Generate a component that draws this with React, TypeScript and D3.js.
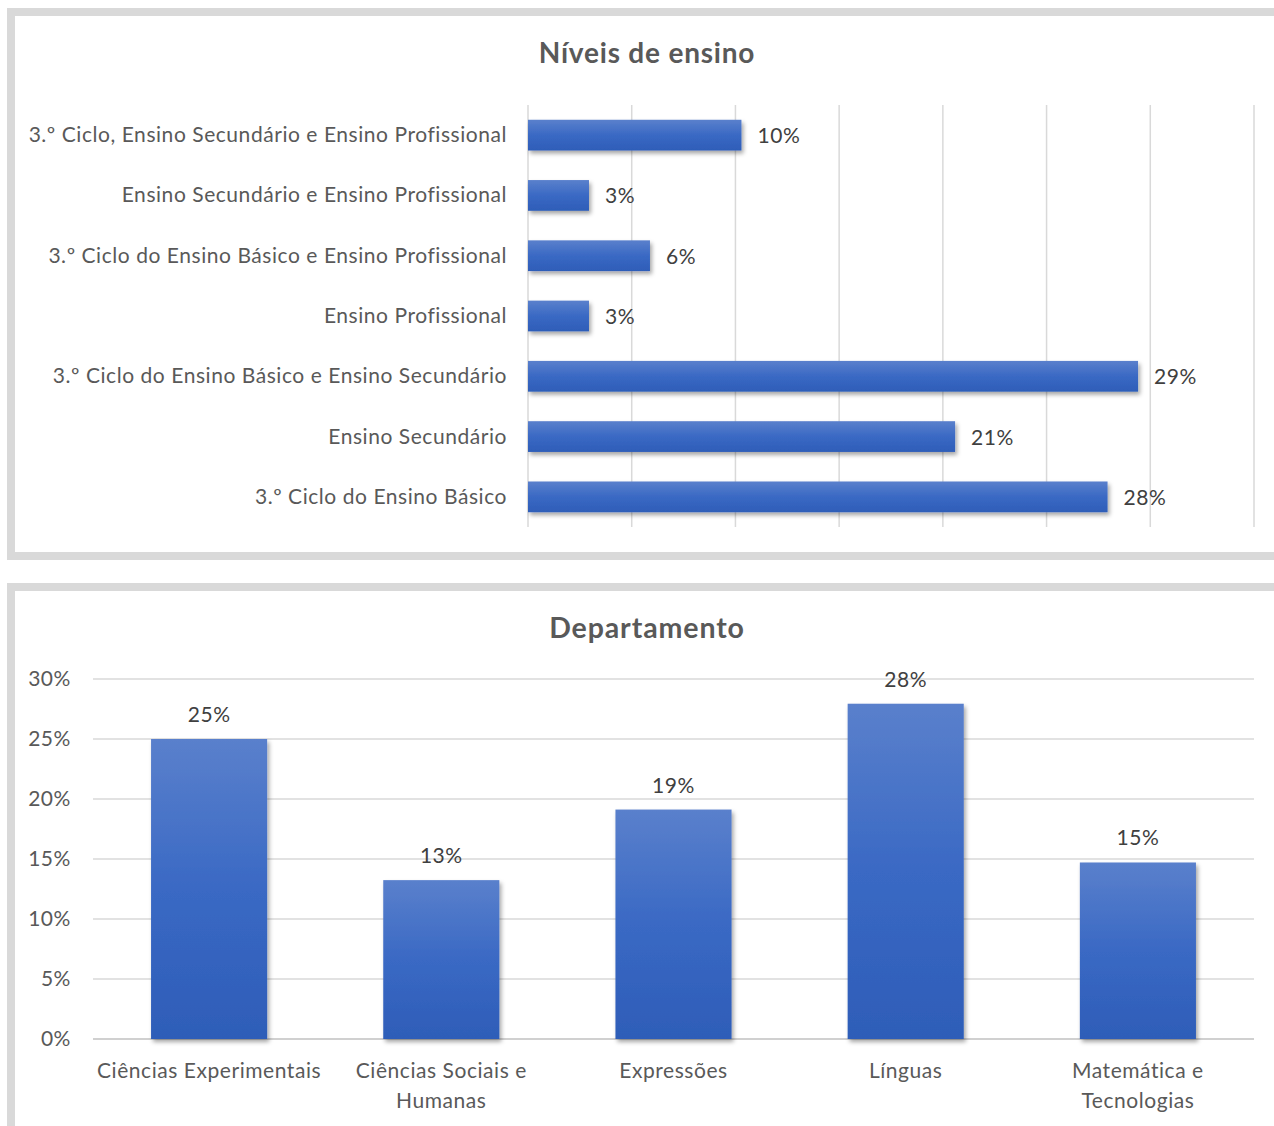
import React from "react";
import * as d3 from "d3";

const nivelCategories = [
  "3.º Ciclo, Ensino Secundário e Ensino Profissional",
  "Ensino Secundário e Ensino Profissional",
  "3.º Ciclo do Ensino Básico e Ensino Profissional",
  "Ensino Profissional",
  "3.º Ciclo do Ensino Básico e Ensino Secundário",
  "Ensino Secundário",
  "3.º Ciclo do Ensino Básico",
];
const nivelValues = [10.29, 2.94, 5.88, 2.94, 29.41, 20.59, 27.94];
const nivelLabels = ["10%", "3%", "6%", "3%", "29%", "21%", "28%"];
const nivelTicks = [0, 5, 10, 15, 20, 25, 30, 35];

const deptCategories = [
  ["Ciências Experimentais"],
  ["Ciências Sociais e", "Humanas"],
  ["Expressões"],
  ["Línguas"],
  ["Matemática e", "Tecnologias"],
];
const deptValues = [25.0, 13.24, 19.12, 27.94, 14.71];
const deptLabels = ["25%", "13%", "19%", "28%", "15%"];
const deptTicks = [0, 5, 10, 15, 20, 25, 30];

const FONT = "Lato, 'Noto Sans', sans-serif";
const LABEL = "#595959";
const DATA = "#404040";
const GRID = "#d9d9d9";
const FS = 21;
const LS = 0.55;

export default function App() {
  const hx = d3.scaleLinear().domain([0, 35]).range([528, 1254]);
  const hy = d3.scaleBand().domain(nivelCategories).range([105, 527]).paddingInner(0.49).paddingOuter(0.245);

  const vx = d3.scaleBand().domain(deptCategories.map((d) => d.join(" "))).range([93, 1254]).paddingInner(0.5).paddingOuter(0.25);
  const vy = d3.scaleLinear().domain([0, 30]).range([1039, 679]);

  return (
    <svg width={1274} height={1126} style={{ position: "absolute", left: 0, top: 0, background: "#fff" }} fontFamily={FONT}>
      <defs>
        <linearGradient id="barGrad" x1="0" y1="0" x2="0" y2="1">
          <stop offset="0%" stopColor="#5a80cc" />
          <stop offset="50%" stopColor="#3a69c4" />
          <stop offset="100%" stopColor="#2e5db8" />
        </linearGradient>
        <filter id="shadow" x="-10%" y="-10%" width="130%" height="140%">
          <feDropShadow dx="2" dy="3" stdDeviation="2" floodColor="#000" floodOpacity="0.35" />
        </filter>
      </defs>

      <rect x={11} y={12} width={1290} height={544} fill="#fff" stroke={GRID} strokeWidth={8} />
      <rect x={11} y={587} width={1290} height={560} fill="#fff" stroke={GRID} strokeWidth={8} />

      {/* ---------- Top chart ---------- */}
      <text x={647} y={63} textAnchor="middle" fontSize={28} fontWeight="bold" letterSpacing={0.8} fill={LABEL}>
        Níveis de ensino
      </text>
      {nivelTicks.map((t) => (
        <line key={t} x1={hx(t)} x2={hx(t)} y1={105} y2={527} stroke={GRID} strokeWidth={1.5} />
      ))}
      {nivelCategories.map((c, i) => {
        const y = hy(c)!;
        const bw = hy.bandwidth();
        return (
          <g key={c}>
            <rect x={hx(0)} y={y} width={hx(nivelValues[i]) - hx(0)} height={bw} fill="url(#barGrad)" filter="url(#shadow)" />
            <text x={507} y={y + bw / 2 + 7} textAnchor="end" fontSize={FS} letterSpacing={LS} fill={LABEL}>
              {c}
            </text>
            <text x={hx(nivelValues[i]) + 16} y={y + bw / 2 + 8} fontSize={FS} letterSpacing={LS} fill={DATA}>
              {nivelLabels[i]}
            </text>
          </g>
        );
      })}

      {/* ---------- Bottom chart ---------- */}
      <text x={647} y={638} textAnchor="middle" fontSize={28.5} fontWeight="bold" letterSpacing={0.9} fill={LABEL}>
        Departamento
      </text>
      {deptTicks.map((t) => (
        <g key={t}>
          <line x1={93} x2={1254} y1={vy(t)} y2={vy(t)} stroke={t === 0 ? "#d0d0d0" : GRID} strokeWidth={t === 0 ? 2 : 1.5} />
          <text x={71} y={vy(t) + 7} textAnchor="end" fontSize={FS} letterSpacing={LS} fill={LABEL}>
            {t}%
          </text>
        </g>
      ))}
      {deptCategories.map((lines, i) => {
        const key = lines.join(" ");
        const x = vx(key)!;
        const bw = vx.bandwidth();
        return (
          <g key={key}>
            <rect x={x} y={vy(deptValues[i])} width={bw} height={vy(0) - vy(deptValues[i])} fill="url(#barGrad)" filter="url(#shadow)" />
            <text x={x + bw / 2} y={vy(deptValues[i]) - 17} textAnchor="middle" fontSize={FS} letterSpacing={LS} fill={DATA}>
              {deptLabels[i]}
            </text>
            {lines.map((l, j) => (
              <text key={j} x={x + bw / 2} y={1078 + j * 30} textAnchor="middle" fontSize={FS} letterSpacing={LS} fill={LABEL}>
                {l}
              </text>
            ))}
          </g>
        );
      })}
    </svg>
  );
}
